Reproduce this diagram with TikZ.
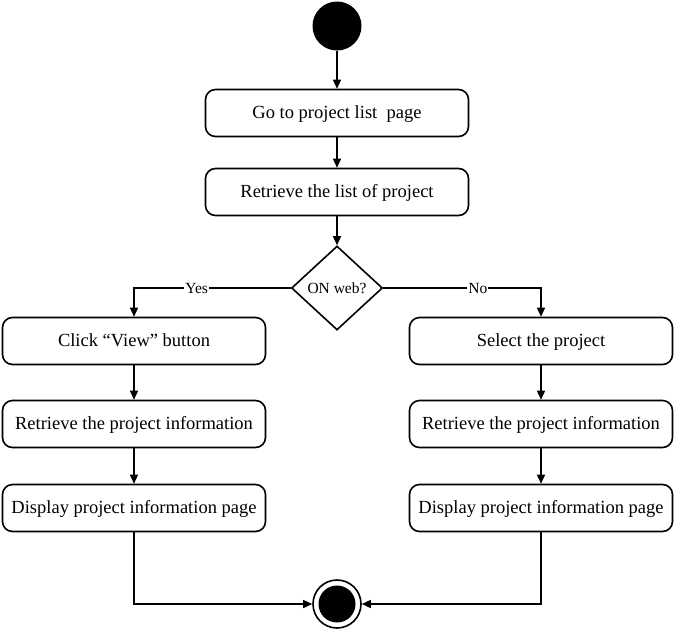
\documentclass[tikz,border=0pt]{standalone}
\usepackage{fontspec}
\setmainfont{Liberation Serif}
\usepackage{tikz}
\usetikzlibrary{arrows.meta,shapes.geometric}
\tikzset{
  act/.style={draw, line width=1.6pt, rounded corners=10pt, minimum width=263pt, minimum height=47pt, inner sep=0pt, text height=12pt, text depth=1pt, font=\fontsize{18.5}{20}\selectfont},
  dec/.style={draw, diamond, line width=1.6pt, minimum width=91pt, minimum height=84pt, inner sep=0pt, aspect=1.08, font=\fontsize{15.5}{17}\selectfont},
  flow/.style={line width=1.5pt, -{Triangle[length=9pt,width=8pt]}},
  guard/.style={fill=white, inner sep=1pt, font=\fontsize{15.5}{17}\selectfont},
}
\begin{document}
\begin{tikzpicture}[x=1pt, y=-1pt]
  \useasboundingbox (0,0) rectangle (679,630);

  \node[circle, fill=black, minimum size=49pt, inner sep=0pt] (start) at (337,26) {};
  \node[act] (golist) at (337,113) {Go to project list \ page};
  \node[act] (getlist) at (337,192) {Retrieve the list of project};
  \node[dec] (web) at (337,288) {ON web?};

  % left branch (web)
  \node[act] (view) at (134,341) {Click “View” button};
  \node[act] (infoL) at (134,424) {Retrieve the project information};
  \node[act] (pageL) at (134,508) {Display project information page};

  % right branch
  \node[act] (select) at (541,341) {Select the project};
  \node[act] (infoR) at (541,424) {Retrieve the project information};
  \node[act] (pageR) at (541,508) {Display project information page};

  \node[circle, draw, line width=1.6pt, minimum size=48pt, inner sep=0pt] (stop) at (337,604) {};
  \node[circle, fill=black, minimum size=37pt, inner sep=0pt] at (stop) {};

  \draw[flow] (start) -- (golist);
  \draw[flow] (golist) -- (getlist);
  \draw[flow] (getlist) -- (web);

  \draw[flow] (web.west) -| node[guard, pos=0.3] {Yes} (view.north);
  \draw[flow] (web.east) -| node[guard, pos=0.3] {No} (select.north);

  \draw[flow] (view) -- (infoL);
  \draw[flow] (infoL) -- (pageL);
  \draw[flow] (select) -- (infoR);
  \draw[flow] (infoR) -- (pageR);

  \draw[flow] (pageL.south) |- (stop.west);
  \draw[flow] (pageR.south) |- (stop.east);
\end{tikzpicture}
\end{document}
